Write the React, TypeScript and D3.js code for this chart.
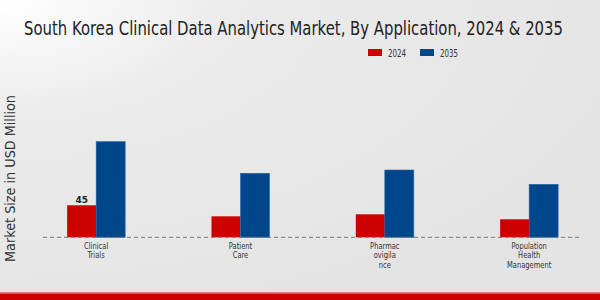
import React, { useEffect, useRef } from 'react';
import * as d3 from 'd3';

const categories = ['Clinical Trials', 'Patient Care', 'Pharmacovigilance', 'Population Health Management'];
const labelLines = [['Clinical', 'Trials'], ['Patient', 'Care'], ['Pharmac', 'ovigila', 'nce'], ['Population', 'Health', 'Management']];
const years = ['2024', '2035'];
const values2024 = [45, 29.5, 32.3, 25.3];
const values2035 = [134.5, 90, 94.6, 74.5];
const colors = ['#cc0000', '#00468b'];

const App: React.FC = () => {
  const svgRef = useRef<SVGSVGElement>(null);

  useEffect(() => {
    if (!svgRef.current) return;
    const svg = d3.select(svgRef.current);
    svg.selectAll('*').remove();
    const width = 600;
    const height = 300;
    const font = "'DejaVu Sans', sans-serif";

    // background
    const defs = svg.append('defs');
    const grad = defs
      .append('radialGradient')
      .attr('id', 'bg')
      .attr('cx', '0')
      .attr('cy', '0')
      .attr('r', '1.1')
      .attr('gradientUnits', 'objectBoundingBox');
    grad.append('stop').attr('offset', '0%').attr('stop-color', '#ffffff');
    grad.append('stop').attr('offset', '35%').attr('stop-color', '#ebebeb');
    grad.append('stop').attr('offset', '100%').attr('stop-color', '#e4e4e4');
    svg.append('rect').attr('width', width).attr('height', height).attr('fill', 'url(#bg)');

    // bottom band
    svg.append('rect').attr('x', 0).attr('y', 292).attr('width', width).attr('height', 1.5).attr('fill', '#e08080');
    svg.append('rect').attr('x', 0).attr('y', 293.5).attr('width', width).attr('height', 6.5).attr('fill', '#cc0000');

    // title
    svg
      .append('text')
      .attr('x', 24)
      .attr('y', 35)
      .attr('font-family', font)
      .attr('font-size', 19)
      .attr('fill', '#222')
      .attr('textLength', 539)
      .attr('lengthAdjust', 'spacingAndGlyphs')
      .text('South Korea Clinical Data Analytics Market, By Application, 2024 & 2035');

    // scales
    const x0 = d3.scaleBand<string>().domain(categories).range([24, 601.3]).padding(0);
    const barW = 29;
    const x1 = d3.scaleBand<string>().domain(years).range([-barW, barW]).padding(0);
    const y = d3.scaleLinear().domain([0, 150]).range([237.3, 130.6]);

    const g = svg.append('g');
    const series = [values2024, values2035];
    series.forEach((vals, si) => {
      g.selectAll(`.bar${si}`)
        .data(vals)
        .enter()
        .append('rect')
        .attr('x', (_, i) => (x0(categories[i]) as number) + x0.bandwidth() / 2 + (x1(years[si]) as number))
        .attr('y', d => y(d))
        .attr('width', x1.bandwidth())
        .attr('height', d => y(0) - y(d))
        .attr('fill', colors[si])
        .attr('stroke', si === 1 ? '#2a64a8' : 'none')
        .attr('stroke-width', 0.6);
    });

    // baseline dashed
    g.append('line')
      .attr('x1', 43)
      .attr('x2', 580)
      .attr('y1', y(0))
      .attr('y2', y(0))
      .attr('stroke', '#777')
      .attr('stroke-width', 1)
      .attr('stroke-dasharray', '4,3');

    // data label
    g.append('text')
      .attr('x', (x0(categories[0]) as number) + x0.bandwidth() / 2 + (x1(years[0]) as number) + barW / 2)
      .attr('y', y(values2024[0]) - 2)
      .attr('text-anchor', 'middle')
      .attr('font-family', font)
      .attr('font-weight', 'bold')
      .attr('font-size', 9)
      .attr('fill', '#222')
      .text('45');

    // x labels
    labelLines.forEach((lines, i) => {
      const cx = (x0(categories[i]) as number) + x0.bandwidth() / 2;
      const t = g
        .append('text')
        .attr('text-anchor', 'middle')
        .attr('font-family', font)
        .attr('font-size', 8.5)
        .attr('fill', '#333');
      lines.forEach((ln, j) => {
        t.append('tspan')
          .attr('x', cx)
          .attr('y', 249 + j * 9.3)
          .attr('transform', '')
          .style('font-stretch', 'condensed')
          .text(ln);
      });
      t.attr('transform', `translate(${cx},0) scale(0.88,1) translate(${-cx},0)`);
    });

    // y axis label
    svg
      .append('text')
      .attr('transform', 'translate(15,178.5) rotate(-90)')
      .attr('text-anchor', 'middle')
      .attr('font-family', font)
      .attr('font-size', 14)
      .attr('fill', '#333')
      .attr('textLength', 167)
      .attr('lengthAdjust', 'spacingAndGlyphs')
      .text('Market Size in USD Million');

    // legend
    const legend = svg.append('g').attr('transform', 'translate(368,49)');
    years.forEach((yr, i) => {
      legend
        .append('rect')
        .attr('x', i * 52)
        .attr('y', 0)
        .attr('width', 14)
        .attr('height', 7)
        .attr('fill', colors[i]);
      legend
        .append('text')
        .attr('x', i * 52 + 20)
        .attr('y', 7.5)
        .attr('font-family', font)
        .attr('font-size', 11)
        .attr('fill', '#333')
        .attr('textLength', 18)
        .attr('lengthAdjust', 'spacingAndGlyphs')
        .text(yr);
    });
  }, []);

  return (
    <div style={{ position: 'absolute', left: 0, top: 0 }}>
      <svg ref={svgRef} width={600} height={300} style={{ display: 'block' }}></svg>
    </div>
  );
};

export default App;
